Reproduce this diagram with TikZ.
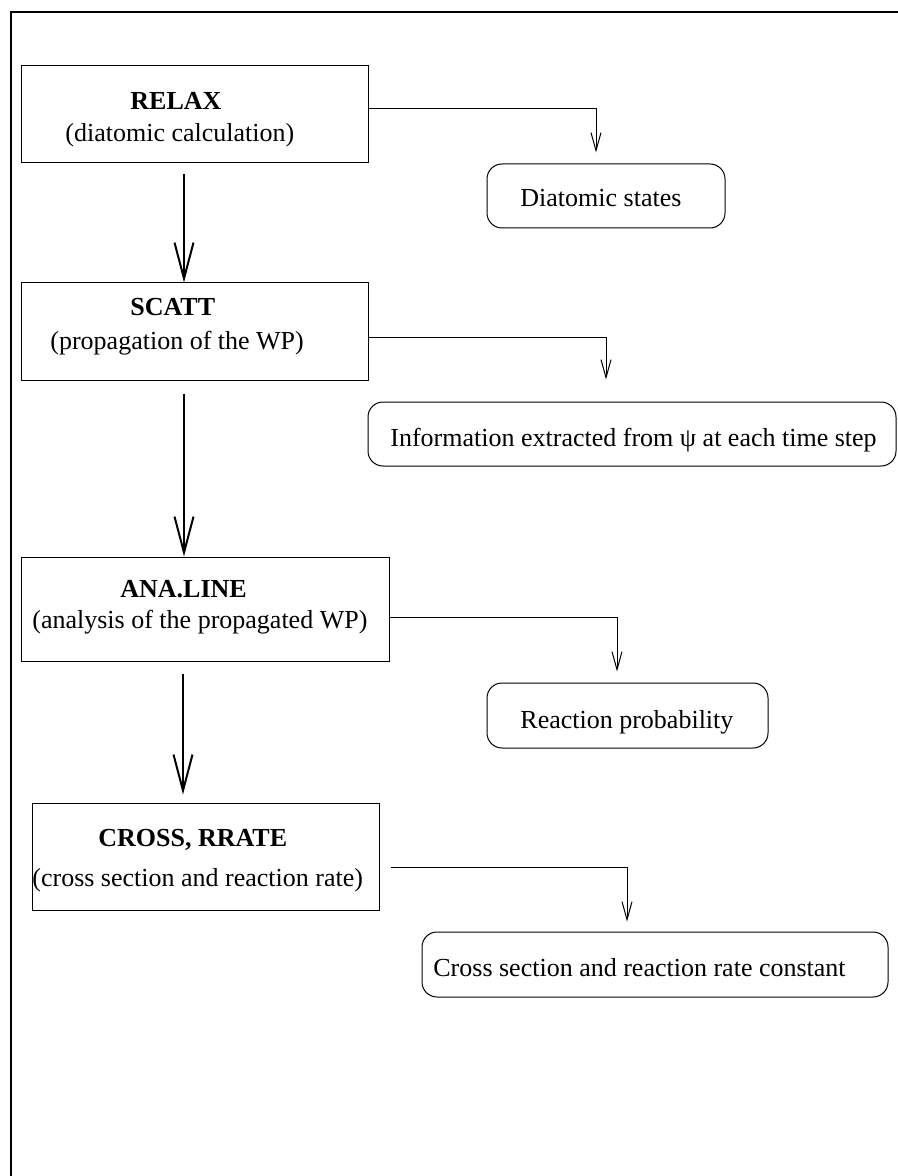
\documentclass[tikz,border=0pt]{standalone}
\usepackage{fontspec}
\setmainfont{Liberation Serif}
\usetikzlibrary{arrows.meta}

\begin{document}
\begin{tikzpicture}[x=0.5pt,y=-0.5pt,
	prog/.style={draw, line width=0.5pt, inner sep=0pt},
	result/.style={draw, line width=0.5pt, rounded corners=7.5pt, inner sep=0pt},
	txt/.style={anchor=base west, inner sep=0pt, font=\fontsize{13}{15}\selectfont},
	bigarrow/.style={line width=1pt, -{Straight Barb[length=18pt,width=9.5pt]}},
	link/.style={line width=0.5pt, -{Straight Barb[length=9pt,width=5pt]}}]
	\useasboundingbox (0,0) rectangle (898,1176);
	% frame
	\draw[line width=1pt] (11,1176) -- (11,12) -- (898,12);
	% programs
	\node[prog, minimum width=173.5pt, minimum height=48.5pt] (relax) at (194.5,114.5) {};
	\node[prog, minimum width=173.5pt, minimum height=48.5pt] (scatt) at (194.5,331.5) {};
	\node[prog, minimum width=184pt, minimum height=52pt] (ana) at (205,609) {};
	\node[prog, minimum width=173.5pt, minimum height=53.5pt] (cross) at (205.5,856.5) {};
	\node[txt] (relaxname) at (130,110) {\textbf{RELAX}};
	\node[txt] (relaxinfo) at (65,142) {(diatomic calculation)};
	\node[txt] (scattname) at (130,315) {\textbf{SCATT}};
	\node[txt] (scattinfo) at (50,350) {(propagation of the WP)};
	\node[txt] (ananame) at (120,597) {\textbf{ANA.LINE}};
	\node[txt] (anainfo) at (32,628) {(analysis of the propagated WP)};
	\node[txt] (crossname) at (98,846) {\textbf{CROSS, RRATE}};
	\node[txt] (crossinfo) at (32,886) {(cross section and reaction rate)};
	% results
	\node[result, minimum width=119pt, minimum height=32pt] (diat) at (606,196) {};
	\node[result, minimum width=264pt, minimum height=32pt] (info) at (632,434) {};
	\node[result, minimum width=140.5pt, minimum height=32.5pt] (prob) at (627.5,715.5) {};
	\node[result, minimum width=233pt, minimum height=32.5pt] (rate) at (655,964.5) {};
	\node[txt] (diattext) at (520,207) {Diatomic states};
	\node[txt] (infotext) at (390,446) {Information extracted from ψ at each time step};
	\node[txt] (probtext) at (520,728) {Reaction probability};
	\node[txt] (ratetext) at (433,976) {Cross section and reaction rate constant};
	% main flow
	\draw[bigarrow] ([yshift=-5.5pt]relax.south -| 184,0) -- (scatt.north -| 184,0);
	\draw[bigarrow] ([yshift=-6.5pt]scatt.south -| 184,0) -- (ana.north -| 184,0);
	\draw[bigarrow] ([yshift=-6pt]ana.south -| 183,0) -- ([yshift=4pt]cross.north -| 183,0);
	% outputs
	\draw[link] ([yshift=2.75pt]relax.east) -| ([xshift=-5pt,yshift=5.5pt]diat.north);
	\draw[link] ([yshift=-2.75pt]scatt.east) -| ([xshift=-13pt,yshift=11pt]info.north);
	\draw[link] ([yshift=-4pt]ana.east) -| ([xshift=-5.25pt,yshift=5.5pt]prob.north);
	\draw[link] ([xshift=5.5pt,yshift=-5.25pt]cross.east) -| ([xshift=-14pt,yshift=5pt]rate.north);
\end{tikzpicture}
\end{document}
